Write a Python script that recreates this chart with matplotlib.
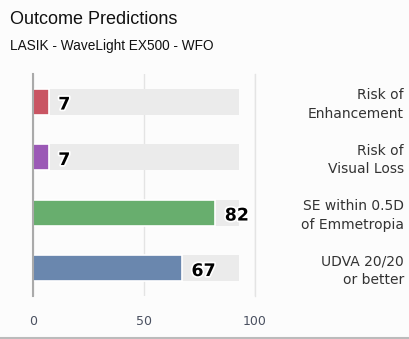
import matplotlib
matplotlib.use("Agg")
import matplotlib.pyplot as plt
import matplotlib.patheffects as pe
from matplotlib.transforms import blended_transform_factory

categories = ["Risk of\nEnhancement", "Risk of\nVisual Loss",
              "SE within 0.5D\nof Emmetropia", "UDVA 20/20\nor better"]
values = [7, 7, 82, 67]
track = [93, 93, 93, 93]
colors = ["#C95563", "#9B59B6", "#68AE6E", "#6A87AE"]
ticks = [0, 50, 100]

BG = "#FCFCFC"
W, H = 410, 339

fig = plt.figure(figsize=(W / 100, H / 100), dpi=100, facecolor=BG)
ax = fig.add_axes([33 / W, (H - 296) / H, 222 / W, 222 / H], facecolor=BG)

y = list(range(len(categories)))
ax.barh(y, track, height=0.47, color="#EBEBEB", zorder=1)
ax.barh(y, values, height=0.47, color=colors, edgecolor="white",
        linewidth=1.2, zorder=2)

for yi, v in zip(y, values):
    ax.annotate(str(v), (v, yi), xytext=(7, -2), textcoords="offset points",
                ha="left", va="center", fontsize=12.5, fontweight="bold",
                color="black", zorder=3,
                path_effects=[pe.withStroke(linewidth=2.5, foreground="white")])

label_tf = blended_transform_factory(fig.transFigure, ax.transData)
for yi, lab in zip(y, categories):
    ax.text(404 / W, yi + 0.05, lab, transform=label_tf,
            ha="right", va="center", fontsize=10, color="#333333",
            linespacing=1.4)

ax.set_xlim(0, 100)
ax.set_ylim(3.5, -0.5)
ax.set_xticks(ticks)
ax.set_xticklabels([str(t) for t in ticks])
ax.tick_params(axis="x", length=0, pad=14, labelsize=9, labelcolor="#4a5060")
ax.tick_params(axis="y", left=False, labelleft=False)
ax.grid(axis="x", color="#E4E4E4", linewidth=1, zorder=0)
ax.set_axisbelow(True)
for s in ["top", "bottom"]:
    ax.spines[s].set_visible(False)
ax.spines["right"].set_color("#E4E4E4")
ax.spines["right"].set_linewidth(1)
ax.spines["left"].set_color("#AAAAAA")
ax.spines["left"].set_linewidth(1.5)

fig.text(10 / W, 1 - 20 / H, "Outcome Predictions", ha="left", va="center",
         fontsize=13, family="Liberation Sans", color="#111111")
fig.text(10 / W, 1 - 46 / H, "LASIK - WaveLight EX500 - WFO", ha="left",
         va="center", fontsize=9.8, family="Liberation Sans", color="#111111")

fig.add_artist(plt.Line2D([0, 1], [1.5 / H, 1.5 / H], transform=fig.transFigure,
                          color="#BBBBBB", linewidth=1.5))

fig.savefig("out.png", dpi=100, facecolor=BG)
